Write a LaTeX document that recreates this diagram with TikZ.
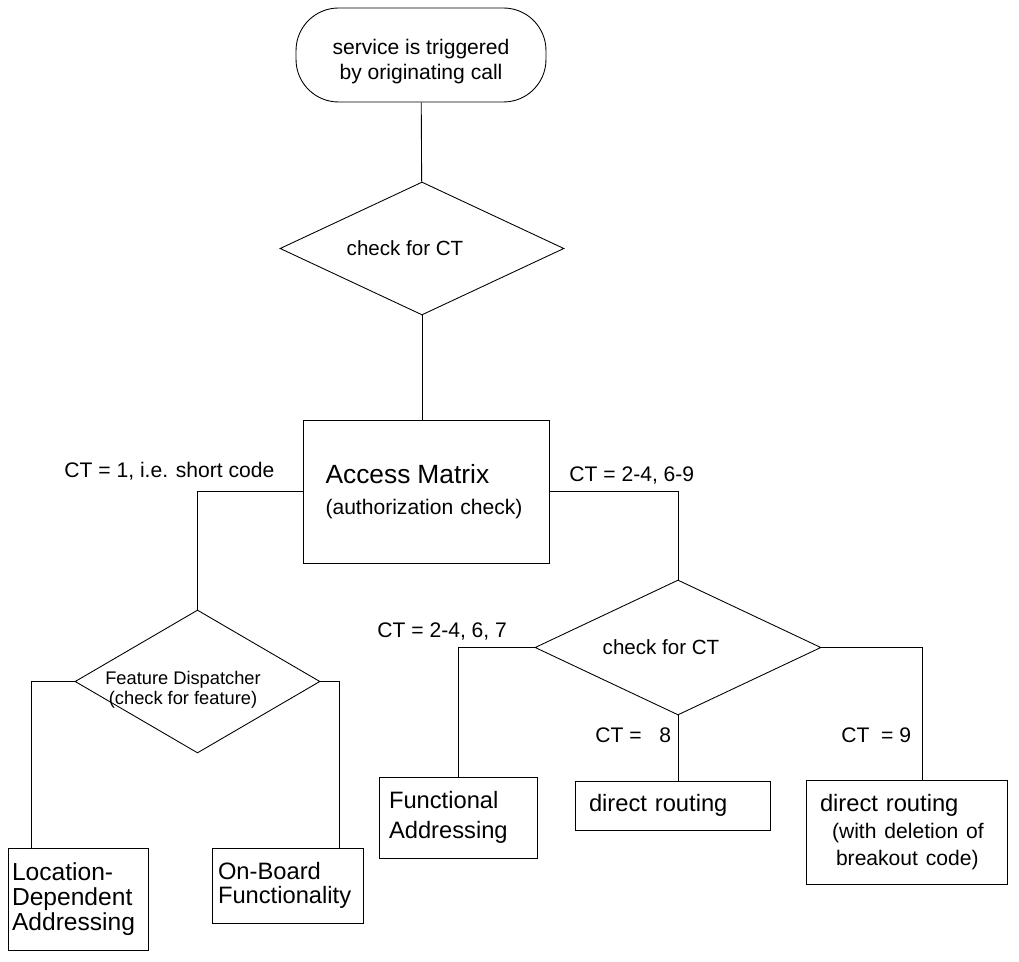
\documentclass[tikz,border=0pt]{standalone}
\usepackage{fontspec}
\setmainfont{Liberation Sans}
\usetikzlibrary{shapes.geometric}

\begin{document}
\begin{tikzpicture}[x=.02cm,y=-.02cm,line width=.5pt,
    box/.style={draw,align=left,inner ysep=0pt},
    dec/.style={draw,diamond,inner sep=0pt},
    lab/.style={anchor=base west,inner sep=0pt,font=\fontsize{12}{14}\selectfont}]
  \useasboundingbox (0,0) rectangle (1019,962);
  % top part
  \node[draw,rounded corners=.85cm,minimum width=5cm,minimum height=1.88cm,align=center,text height=30pt,font=\fontsize{12}{14.2}\selectfont] (start) at (421,55) {service is triggered\\by originating call};
  \node[dec,minimum width=5.68cm,minimum height=2.66cm,label={[name=ck1-t,xshift=-.34cm,font=\fontsize{11.7}{14}\selectfont]center:check for CT}] (ck1) at (422,248.5) {};
  \node[box,minimum width=4.92cm,minimum height=2.86cm,inner xsep=.45cm,text width=4.02cm,font=\fontsize{12}{17.6}\selectfont] (am) at (426,491.5) {{\fontsize{15}{18}\selectfont Access Matrix}\\(authorization check)};
  % left branch
  \node[dec,minimum width=4.9cm,minimum height=2.86cm,label={[name=fd-t,xshift=-.29cm,yshift=-.16cm,align=center,font=\fontsize{10.4}{11.5}\selectfont]center:Feature Dispatcher\\(check for feature)}] (fd) at (197.5,681.5) {};
  \node[box,minimum width=2.8cm,minimum height=2.04cm,inner xsep=.08cm,text width=2.64cm,font=\fontsize{14}{14.2}\selectfont] (lda) at (78,899) {Location-\\Dependent\\Addressing};
  \node[box,minimum width=3.02cm,minimum height=1.5cm,inner xsep=.12cm,text width=2.78cm,font=\fontsize{13.5}{13.6}\selectfont] (obf) at (287.5,885.5) {On-Board\\Functionality};
  % right branch
  \node[dec,minimum width=5.72cm,minimum height=2.7cm,label={[name=ck2-t,xshift=-.34cm,font=\fontsize{11.7}{14}\selectfont]center:check for CT}] (ck2) at (678,647.5) {};
  \node[box,minimum width=3.16cm,minimum height=1.62cm,inner xsep=.2cm,text width=2.76cm,font=\fontsize{13.5}{17}\selectfont] (fa) at (458,817.5) {Functional\\Addressing};
  \node[box,minimum width=3.9cm,minimum height=.98cm,inner xsep=.28cm,text width=3.34cm,font=\fontsize{13.5}{15.5}\selectfont] (dr) at (672.5,805.5) {direct routing};
  \node[box,minimum width=4.02cm,minimum height=2.08cm,inner xsep=.28cm,text width=3.46cm,font=\fontsize{13.5}{15.5}\selectfont] (dr9) at (906.5,832) {direct routing\\{\fontsize{12}{14}\selectfont\hspace*{.24cm}(with deletion of}\\{\fontsize{12}{14}\selectfont\hspace*{.32cm}breakout code)}};
  % labels
  \node[lab] (ct1) at (64,478) {CT = 1, i.e. short code};
  \node[lab] (ct2) at (569,482) {CT = 2-4, 6-9};
  \node[lab] (ct3) at (377,638) {CT = 2-4, 6, 7};
  \node[lab] (ct4) at (595,743) {CT =\ \ \ 8};
  \node[lab] (ct5) at (841,743) {CT\ \ = 9};
  % connectors
  \draw (start) -- (ck1);
  \draw (ck1.south) -- (ck1.south |- am.north);
  \draw (am.west) -| (fd.north);
  \draw (am.east) -| (ck2.north);
  \draw (fd.west) -| ([xshift=.48cm]lda.north west);
  \draw (fd.east) -| ([xshift=-.48cm]obf.north east);
  \draw (ck2.west) -| (fa.north);
  \draw (ck2.south) -- (ck2.south |- dr.north);
  \draw (ck2.east) -| ([xshift=.32cm]dr9.north);
\end{tikzpicture}
\end{document}
